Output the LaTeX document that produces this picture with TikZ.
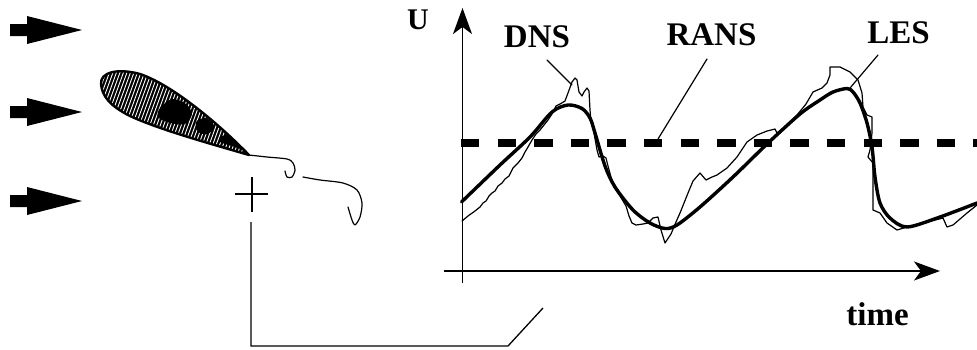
\documentclass[tikz,border=0pt]{standalone}
\usepackage{fontspec}
\setmainfont{Liberation Serif}
\usetikzlibrary{arrows.meta}
% outline of the airfoil (upper side, then lower side back to the nose)
\newcommand\foiloutline{(101,84) .. controls (100,72) and (118,68) .. (140,74)
  .. controls (170,84) and (215,120) .. (249,155)
  .. controls (215,145) and (160,130) .. (130,116)
  .. controls (110,106) and (102,96) .. (101,84) -- cycle}
\newcommand\labelfont{\fontsize{33pt}{36pt}\selectfont\bfseries}
\newcommand\axisfont{\fontsize{30pt}{32pt}\selectfont\bfseries}
\begin{document}
\begin{tikzpicture}[x=1pt,y=-1pt,
  thinline/.style={line width=1.2pt, line join=round, line cap=round},
  thickcurve/.style={line width=3.4pt, line join=round, line cap=round},
  axisline/.style={line width=1.5pt, -{Stealth[length=26pt,width=19pt,inset=7pt]}},
  meanline/.style={line width=7.5pt, dash pattern=on 18.3pt off 18.3pt},
  biglabel/.style={inner sep=0pt, anchor=base, font=\labelfont},
  axislabel/.style={inner sep=0pt, anchor=base, font=\axisfont},
  hatchline/.style={white, line width=0.9pt}]
\useasboundingbox (0,0) rectangle (977,349);

% incoming flow arrows
\foreach \yy in {30,112,201}
  \fill (10,\yy-6) -- (27,\yy-6) -- (27,\yy-14) -- (82,\yy)
        -- (27,\yy+14) -- (27,\yy+6) -- (10,\yy+6) -- cycle;

% hatched airfoil
\begin{scope}
  \clip \foiloutline;
  \fill[black] (90,60) rectangle (260,170);
  \foreach \xx in {60,63.5,...,270}
    \draw[hatchline] (\xx,170) -- (\xx+40,60);
  % dark patches in the hatching
  \fill[black] plot[smooth cycle] coordinates {(160,108) (172,99) (186,104)
    (192,114) (185,124) (170,123) (158,117)};
  \fill[black] plot[smooth cycle] coordinates {(196,122) (206,118) (214,126)
    (208,134) (198,132)};
  \fill[black] plot[smooth cycle] coordinates {(222,136) (236,136) (246,150)
    (232,146) (220,142)};
\end{scope}
\draw[line width=2.4pt, line join=round] \foiloutline;

% wake shed from the trailing edge
\draw[thinline] plot[smooth] coordinates {(249,155) (267,157) (287,159) (293,163)
  (295,170) (292,177) (287,177) (285,171)};
\draw[thinline] plot[smooth] coordinates {(303,177) (320,180) (343,183) (357,190)
  (362,203) (360,217) (355,225) (352,220) (348,207)};

% probe location and its lead to the signal plot
\coordinate (probe) at (252,194);
\draw[line width=1.3pt] (probe) +(-17,0) -- +(16,0);
\draw[line width=1.3pt] (probe) +(0,-17) -- +(0,18);
\coordinate (probeLead) at (251,222);
\coordinate (leadCorner) at (251,346);
\coordinate (leadEnd) at (508,346);
\coordinate (leadTip) at (543,308);
\draw[line width=1.3pt, line join=miter] (probeLead) -- (leadCorner) -- (leadEnd) -- (leadTip);

% axes
\coordinate (ybot) at (462.5,283);
\coordinate (ytop) at (462.5,8);
\coordinate (xleft) at (444,271);
\coordinate (xright) at (940,271);
\draw[axisline] (ybot) -- (ytop);
\draw[axisline] (xleft) -- (xright);

% mean value (RANS)
\coordinate (meanL) at (461,143);
\coordinate (meanR) at (985,143);
\draw[meanline] (meanL) -- (meanR);

% resolved large scales (LES)
\draw[thickcurve] plot[smooth, tension=0.5] coordinates {
  (461.5,202) (500,165) (530,137) (552,112) (568,105) (582,108.5) (590,118)
  (595,133) (605,166) (615,187) (633,210) (650,223) (665,228.5) (677,225)
  (700,207) (733,177) (767,144) (800,114) (820,100) (833,92) (847,88.5)
  (853,92) (860,103) (867,123) (872,147) (875,177) (880,203) (890,218)
  (907,227) (940,217) (977,203)};

% fully resolved signal (DNS)
\draw[thinline] (462,221) -- (468,216) -- (475,211) -- (480,207) -- (483,203)
  -- (486,201) -- (489,196) -- (492,193) -- (495,191) -- (498,186) -- (502,183)
  -- (505,179) -- (509,176) -- (513,168) -- (518,163) -- (522,158) -- (525,152)
  -- (528,147) -- (532,140) -- (536,134) -- (540,130) -- (544,125) -- (548,120)
  -- (552,114) -- (556,106) -- (560,104) -- (565,101) -- (568,93) -- (572,82)
  -- (575,78) -- (577,80) -- (579,92) -- (582,96) -- (584,92) -- (587,88)
  -- (589,91) -- (590,110) -- (591,121) -- (594,133) -- (597,150) -- (599,157)
  -- (603,156) -- (606,158) -- (608,166) -- (611,177) -- (614,187) -- (620,196)
  -- (626,206) -- (629,216) -- (632,223) -- (636,225) -- (643,224) -- (648,223)
  -- (653,218) -- (658,217) -- (661,230) -- (665,243) -- (671,234) -- (676,222)
  -- (680,213) -- (684,203) -- (688,193) -- (693,181) -- (700,173) -- (706,180)
  -- (712,177) -- (717,175) -- (727,168) -- (737,157) -- (747,142) -- (757,135)
  -- (767,131) -- (775,129) -- (777,133) -- (785,127) -- (797,115) -- (806,104)
  -- (813,92) -- (822,88) -- (827,83) -- (830,75) -- (830,67) -- (840,67)
  -- (850,72) -- (858,80) -- (862,93) -- (863,107) -- (867,115) -- (872,117)
  -- (872,133) -- (870,150) -- (868,157) -- (873,163) -- (873,210) -- (880,213)
  -- (887,223) -- (897,230) -- (907,227) -- (943,218) -- (947,227) -- (953,225)
  -- (967,213) -- (977,205);

% labels
\node[axislabel] (ulabel) at (418,29) {U};
\node[biglabel] (dns) at (537,47) {DNS};
\node[biglabel] (rans) at (711.5,45) {RANS};
\node[biglabel] (les) at (898.5,43) {LES};
\node[biglabel] (timelabel) at (877.5,325) {time};

% label leaders
\coordinate (dnsA) at (547,60);  \coordinate (dnsB) at (572,85);
\coordinate (ransA) at (707,59); \coordinate (ransB) at (658,139);
\coordinate (lesA) at (878,55);  \coordinate (lesB) at (850,88);
\draw[thinline] (dnsA) -- (dnsB);
\draw[thinline] (ransA) -- (ransB);
\draw[thinline] (lesA) -- (lesB);
\end{tikzpicture}
\end{document}
